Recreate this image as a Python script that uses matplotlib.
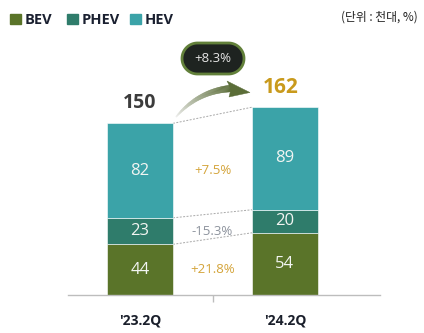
import matplotlib.pyplot as plt
import numpy as np
from matplotlib.patches import Polygon, Rectangle
from matplotlib.collections import PolyCollection
from matplotlib.colors import to_rgb

plt.rcParams['font.family'] = ['Open Sans', 'Noto Sans CJK KR', 'DejaVu Sans']

# data
periods = ["'23.2Q", "'24.2Q"]
series = ['BEV', 'PHEV', 'HEV']
bev = [44, 54]
phev = [23, 20]
hev = [82, 89]
totals = [150, 162]
changes = ['+21.8%', '-15.3%', '+7.5%']
total_change = '+8.3%'
unit_text = '(단위 : 천대, %)'

colors = ['#5a7429', '#2f7c6b', '#3ba3a8']
change_colors = ['#d4a43a', '#8c929c', '#d4a43a']

W, H = 424, 333
fig = plt.figure(figsize=(W / 100, H / 100), dpi=100)
fig.patch.set_facecolor('white')

# main axes: pixel layout
ax = fig.add_axes([68 / W, 38 / H, (380 - 68) / W, 295 / H])
ax.set_xlim((68 - 140) / 145, (380 - 140) / 145)
ax.set_ylim(0, 295 / 1.152)
for s in ['top', 'right', 'left']:
    ax.spines[s].set_visible(False)
ax.spines['bottom'].set_color('#bdbdbd')
ax.spines['bottom'].set_linewidth(1)
ax.set_yticks([])

x = np.arange(len(periods))
width = 66 / 145
stack = [bev, phev, hev]
bottoms = np.zeros(len(periods))
seg_bounds = []
for vals, c in zip(stack, colors):
    vals = np.array(vals, dtype=float)
    ax.bar(x, vals, width=width, bottom=bottoms, color=c, edgecolor='white', linewidth=0.4, zorder=2)
    for xi, b, v in zip(x, bottoms, vals):
        ax.text(xi, b + v / 2, f'{int(v)}', ha='center', va='center', fontsize=12,
                color='#f2f5f2', zorder=3)
    seg_bounds.append((bottoms.copy(), bottoms + vals))
    bottoms = bottoms + vals

# dashed connectors between bar segments
for lo, hi in seg_bounds:
    ax.plot([x[0] + width / 2, x[1] - width / 2], [hi[0], hi[1]], ls=(0, (2, 1.5)),
            color='#a8a8a8', lw=0.7, zorder=1)

# change labels in the middle
for (lo, hi), lab, c in zip(seg_bounds, changes, change_colors):
    ax.text(0.5, (lo[0] + hi[0]) / 2, lab, ha='center', va='center', fontsize=9.5, color=c)

# totals
ax.text(x[0], bottoms[0] + 9, f'{totals[0]}', ha='center', va='bottom', fontsize=14,
        fontweight='bold', color='#3c3c3c')
ax.text(x[1] - 0.03, bottoms[1] + 8, f'{totals[1]}', ha='center', va='bottom', fontsize=15,
        fontweight='bold', color='#c99a1c')

ax.set_xticks(x, periods, fontsize=10, fontweight='bold', color='#1a1f2b')
ax.tick_params(axis='x', which='major', length=0, pad=13)
ax.set_xticks([0.5], minor=True)
ax.tick_params(axis='x', which='minor', length=5, color='#bdbdbd', width=1)

# overlay for decorations in pixel coordinates (y from top)
ov = fig.add_axes([0, 0, 1, 1], zorder=5)
ov.set_xlim(0, W)
ov.set_ylim(H, 0)
ov.axis('off')

# legend
lx = [10, 67, 130]
for px, name, c in zip(lx, series, colors):
    ov.add_patch(Rectangle((px, 14), 10.5, 10, color=c))
    ov.text(px + 15, 20.5, name, ha='left', va='center', fontsize=10.5, fontweight='bold',
            color='#1a2030')

ov.text(418, 17, unit_text, ha='right', va='center', fontsize=8.5,
        family=['Noto Sans CJK KR', 'DejaVu Sans'], color='#222222')

# pill with total change
r, cy, cxl, cxr = 15.5, 58.5, 197.5, 228.5
a1 = np.linspace(np.pi / 2, 3 * np.pi / 2, 40)
a2 = np.linspace(-np.pi / 2, np.pi / 2, 40)
pill = np.vstack([np.c_[cxl + r * np.cos(a1), cy - r * np.sin(a1)],
                  np.c_[cxr + r * np.cos(a2), cy - r * np.sin(a2)]])
ov.add_patch(Polygon(pill, closed=True, fc='#1e2320', ec='#62803a', lw=2))
ov.text(213, 58.5, total_change, ha='center', va='center', fontsize=9.5, color='#e6e6e6')

# curved gradient arrow
t = np.linspace(0, 1, 60)
p0, p1, p2 = np.array([176, 117]), np.array([198, 91]), np.array([231, 88.5])
pts = ((1 - t) ** 2)[:, None] * p0 + (2 * (1 - t) * t)[:, None] * p1 + (t ** 2)[:, None] * p2
d = np.gradient(pts, axis=0)
nrm = np.stack([-d[:, 1], d[:, 0]], axis=1)
nrm /= np.linalg.norm(nrm, axis=1)[:, None]
wid = 0.4 + 3.0 * t ** 0.8
up = pts + nrm * wid[:, None]
dn = pts - nrm * wid[:, None]
c0, c1 = np.array(to_rgb('#f2f2f2')), np.array(to_rgb('#5b6d38'))
polys, fcs = [], []
for i in range(len(t) - 1):
    polys.append([up[i], up[i + 1], dn[i + 1], dn[i]])
    tt = (t[i] + t[i + 1]) / 2
    fcs.append(c0 + (c1 - c0) * tt ** 0.8)
ov.add_collection(PolyCollection(polys, facecolors=fcs, edgecolors=fcs, linewidths=0.3))
ov.add_patch(Polygon([[227, 81], [250, 92.5], [229, 97], [231, 89]], closed=True,
                     fc='#5b6d38', ec='#5b6d38', lw=0.3))

fig.savefig('out.png', dpi=100)
